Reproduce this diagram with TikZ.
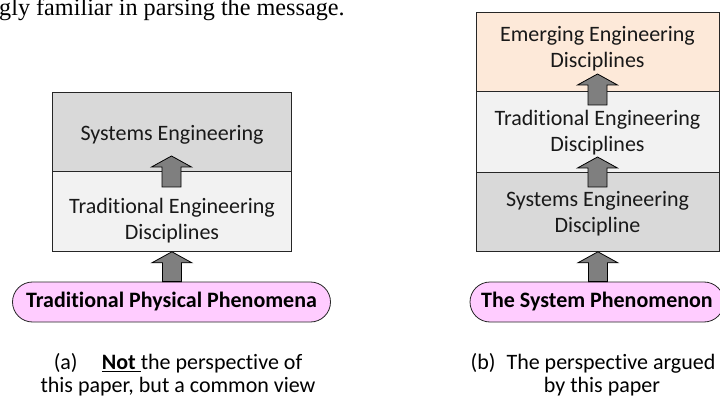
\documentclass[tikz,border=0pt]{standalone}
\usepackage{fontspec}
\setmainfont{Carlito}[Ligatures={CommonOff,ContextualOff}]
\newfontfamily\seriffont{Liberation Serif}
\usetikzlibrary{calc}
\definecolor{segray}{HTML}{D9D9D9}
\definecolor{lightbox}{HTML}{F2F2F2}
\definecolor{emerge}{HTML}{FDE9D9}
\definecolor{pillpink}{HTML}{FFCCFF}
\definecolor{arrowgray}{HTML}{7F7F7F}
\newcommand\blockarrow[2]{%
  \draw[barrow] let \p1=(#1), \p2=(#2) in
    (\x1,\y1) -- (\x1+20pt,\y1-11pt) -- (\x1+9.5pt,\y1-11pt) -- (\x1+9.5pt,\y2)
    -- (\x1-9.5pt,\y2) -- (\x1-9.5pt,\y1-11pt) -- (\x1-20pt,\y1-11pt) -- cycle;}
\begin{document}
\begin{tikzpicture}[x=1pt,y=1pt,
  layer/.style={draw=black!85, line width=0.8pt, anchor=north west, inner sep=0pt},
  txt/.style={font=\fontsize{22}{26}\selectfont, align=center, inner sep=0pt, text=black!90},
  pill/.style={draw=black!85, line width=0.8pt, fill=pillpink, rounded corners=20pt,
     minimum height=40pt, inner sep=0pt, font=\bfseries\fontsize{22}{26}\selectfont},
  captxt/.style={font=\fontsize{22}{23}\selectfont, align=center, inner sep=0pt},
  barrow/.style={draw=black, line width=0.8pt, fill=arrowgray, line join=miter}]
\useasboundingbox (0,0) rectangle (720,-414);
\clip (0,0) rectangle (720,-414);
% top running text
\node[anchor=base west, inner sep=0pt, font=\seriffont\fontsize{24.2}{24}\selectfont] (toptext) at (-1,-15.5) {gly familiar in parsing the message.};
% ---- left stack
\node[layer, fill=segray, minimum width=239pt, minimum height=79pt] (lse) at (52,-92) {};
\node[layer, fill=lightbox, minimum width=239pt, minimum height=80pt] (lted) at (52,-171) {};
\node[txt] (lsetxt) at (172,-135) {Systems Engineering};
\node[txt] (ltedtxt) at (172,-221) {Traditional Engineering\\Disciplines};
\node[pill, minimum width=318pt] (lpill) at (171.5,-302) {Traditional Physical Phenomena};
\coordinate (la1tip) at (171.5,-156);
\coordinate (la1base) at (171.5,-187);
\blockarrow{la1tip}{la1base}
\blockarrow{lted.south}{lpill.north}
% ---- right stack
\node[layer, fill=emerge, minimum width=243pt, minimum height=79pt] (rem) at (476,-12) {};
\node[layer, fill=lightbox, minimum width=243pt, minimum height=81pt] (rted) at (476,-91) {};
\node[layer, fill=segray, minimum width=243pt, minimum height=79pt] (rse) at (476,-172) {};
\node[txt] (remtxt) at (597.5,-49) {Emerging Engineering\\Disciplines};
\node[txt] (rtedtxt) at (597.5,-133) {Traditional Engineering\\Disciplines};
\node[txt] (rsetxt) at (597.5,-214) {Systems Engineering\\Discipline};
\node[pill, minimum width=254pt] (rpill) at (597,-302) {The System Phenomenon};
\coordinate (ra1tip) at (597.5,-74);
\coordinate (ra1base) at (597.5,-105);
\coordinate (ra2tip) at (597.5,-157);
\coordinate (ra2base) at (597.5,-187);
\blockarrow{ra1tip}{ra1base}
\blockarrow{ra2tip}{ra2base}
\blockarrow{rse.south}{rpill.north}
% ---- captions
\node[captxt] (capa) at (178,-375) {(a)\hspace{1.1em}\underline{\textbf{Not }}the perspective of\\this paper, but a common view};
\node[captxt] (capb) at (593,-375) {(b)\hspace{0.5em}The perspective argued\\\hspace*{18pt}by this paper};
\end{tikzpicture}
\end{document}
